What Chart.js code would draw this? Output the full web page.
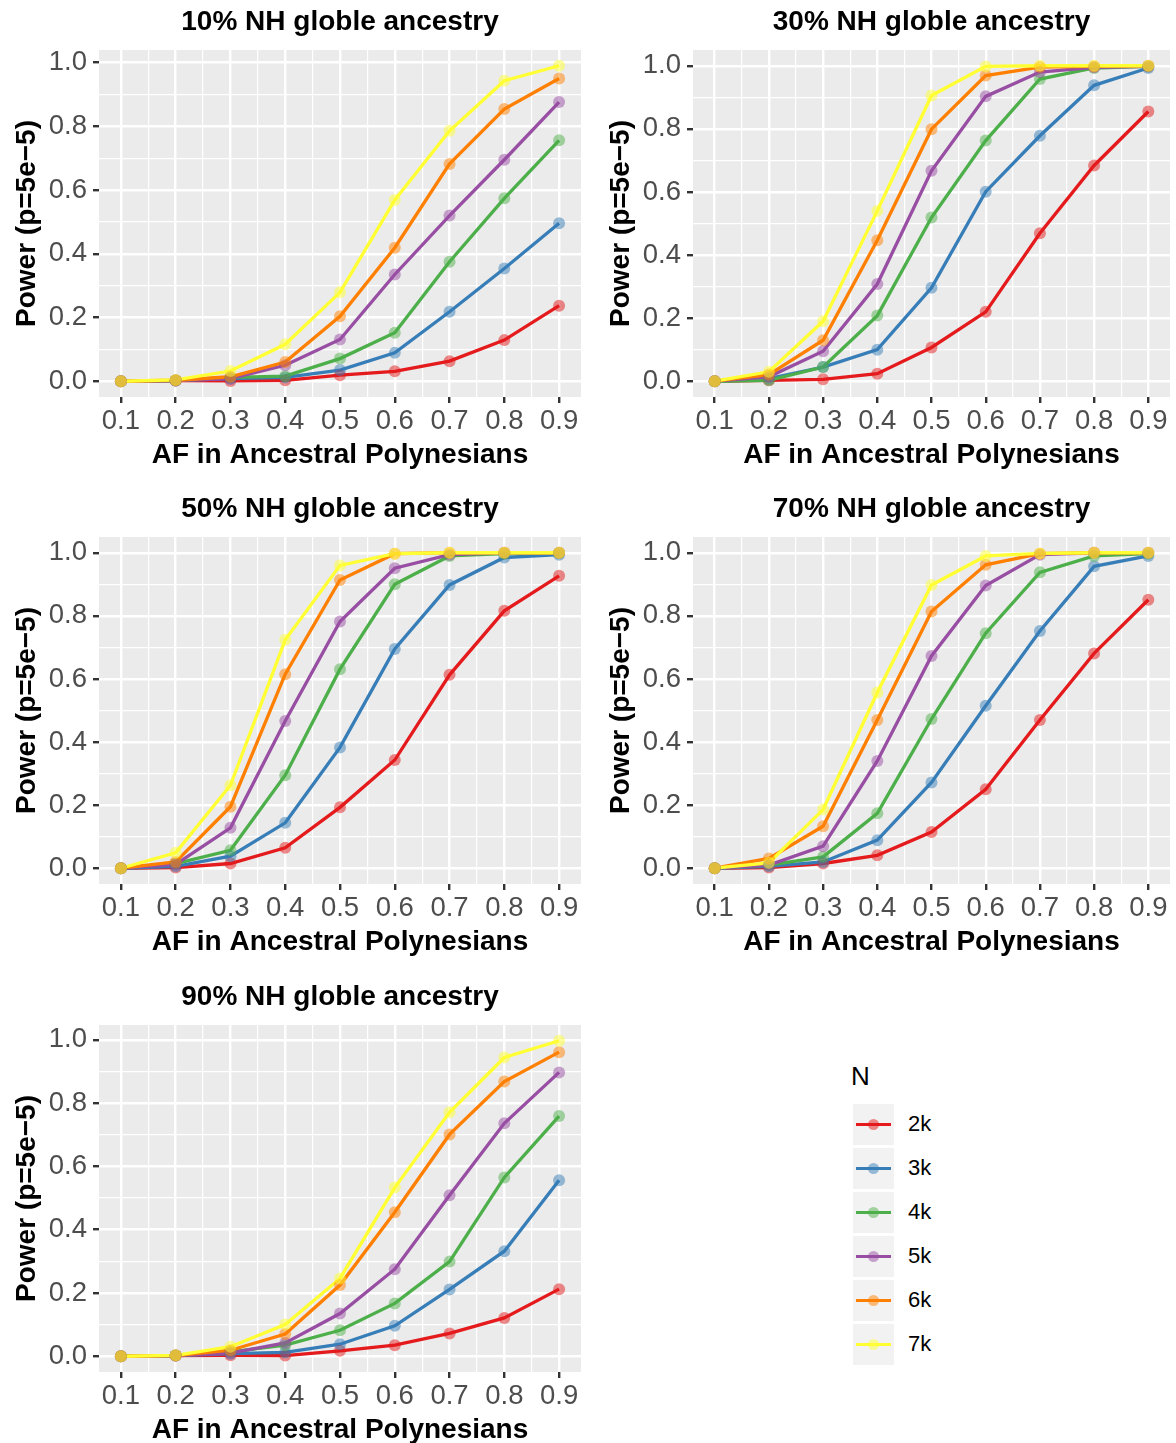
<!DOCTYPE html>
<html>
<head>
<meta charset="utf-8">
<script src="https://cdn.jsdelivr.net/npm/chart.js@4.4.0/dist/chart.umd.min.js"></script>
<style>
html, body { margin: 0; padding: 0; width: 1176px; height: 1443px; overflow: hidden; background: #fff; }
.panel { position: absolute; }
#legend { position: absolute; left: 0; top: 0; font-family: "Liberation Sans", Arial, sans-serif; }
</style>
</head>
<body>
<div class="panel" style="left:0px;top:0px"><canvas id="p10" width="588" height="487"></canvas></div>
<div class="panel" style="left:594px;top:0px"><canvas id="p30" width="582" height="487"></canvas></div>
<div class="panel" style="left:0px;top:487px"><canvas id="p50" width="588" height="487"></canvas></div>
<div class="panel" style="left:594px;top:487px"><canvas id="p70" width="582" height="487"></canvas></div>
<div class="panel" style="left:0px;top:975px"><canvas id="p90" width="588" height="487"></canvas></div>
<div id="legend"></div>
<script>
// AF in ancestral Polynesians (x values)
const afValues = [0.1, 0.2, 0.3, 0.4, 0.5, 0.6, 0.7, 0.8, 0.9];
const xMajor = [0.1, 0.2, 0.3, 0.4, 0.5, 0.6, 0.7, 0.8, 0.9];
const xMinor = [0.15, 0.25, 0.35, 0.45, 0.55, 0.65, 0.75, 0.85];
const yMajor = [0, 0.2, 0.4, 0.6, 0.8, 1.0];
const yMinor = [0.1, 0.3, 0.5, 0.7, 0.9];

const seriesNames = ['2k', '3k', '4k', '5k', '6k', '7k'];
const seriesColors = ['#E41A1C', '#377EB8', '#4DAF4A', '#984EA3', '#FF7F00', '#FFFF33'];

// power per N, rows follow seriesNames
const power10 = [
    [0, 0.002, 0.001, 0.003, 0.019, 0.031, 0.063, 0.129, 0.237],
    [0, 0.002, 0.008, 0.012, 0.035, 0.089, 0.218, 0.354, 0.496],
    [0, 0.002, 0.012, 0.016, 0.071, 0.152, 0.375, 0.574, 0.756],
    [0, 0.002, 0.008, 0.050, 0.131, 0.335, 0.520, 0.695, 0.876],
    [0, 0.003, 0.014, 0.060, 0.204, 0.419, 0.682, 0.854, 0.950],
    [0, 0.004, 0.032, 0.116, 0.279, 0.569, 0.786, 0.943, 0.990]
];
const power30 = [
    [0, 0.003, 0.006, 0.024, 0.107, 0.220, 0.469, 0.684, 0.855],
    [0, 0.008, 0.045, 0.100, 0.296, 0.601, 0.778, 0.938, 0.993],
    [0, 0.003, 0.045, 0.208, 0.519, 0.763, 0.958, 0.993, 0.998],
    [0, 0.014, 0.095, 0.308, 0.667, 0.903, 0.980, 0.995, 0.998],
    [0, 0.021, 0.130, 0.447, 0.799, 0.969, 0.996, 0.998, 1.000],
    [0, 0.030, 0.190, 0.540, 0.906, 0.998, 1.000, 1.000, 1.000]
];
const power50 = [
    [0, 0.002, 0.015, 0.065, 0.193, 0.343, 0.613, 0.816, 0.927],
    [0, 0.006, 0.038, 0.144, 0.383, 0.695, 0.898, 0.985, 0.994],
    [0, 0.015, 0.057, 0.295, 0.631, 0.900, 0.990, 0.997, 0.999],
    [0, 0.012, 0.128, 0.467, 0.782, 0.951, 0.994, 1.000, 1.000],
    [0, 0.020, 0.195, 0.615, 0.914, 0.997, 1.000, 1.000, 1.000],
    [0, 0.049, 0.263, 0.724, 0.960, 0.997, 1.000, 1.000, 1.000]
];
const power70 = [
    [0, 0.002, 0.015, 0.041, 0.115, 0.250, 0.470, 0.681, 0.851],
    [0, 0.006, 0.020, 0.089, 0.272, 0.515, 0.752, 0.957, 0.990],
    [0, 0.010, 0.036, 0.174, 0.473, 0.745, 0.938, 0.990, 0.997],
    [0, 0.010, 0.070, 0.340, 0.673, 0.896, 0.994, 1.000, 1.000],
    [0, 0.031, 0.133, 0.470, 0.814, 0.962, 0.997, 1.000, 1.000],
    [0, 0.017, 0.186, 0.557, 0.898, 0.990, 0.998, 1.000, 1.000]
];
const power90 = [
    [0, 0.002, 0.003, 0.002, 0.017, 0.035, 0.072, 0.121, 0.212],
    [0, 0.002, 0.008, 0.012, 0.038, 0.096, 0.211, 0.332, 0.556],
    [0, 0.002, 0.014, 0.035, 0.082, 0.167, 0.299, 0.565, 0.759],
    [0, 0.002, 0.010, 0.042, 0.135, 0.275, 0.509, 0.736, 0.897],
    [0, 0.002, 0.019, 0.070, 0.225, 0.455, 0.701, 0.868, 0.961],
    [0, 0.003, 0.030, 0.100, 0.246, 0.533, 0.771, 0.944, 0.997]
];

const FONT = '"Liberation Sans", Arial, sans-serif';
Chart.defaults.font.family = FONT;

function fade(hex, a) {
    const n = parseInt(hex.slice(1), 16);
    return `rgba(${(n >> 16) & 255}, ${(n >> 8) & 255}, ${n & 255}, ${a})`;
}

function tickList(major, minor) {
    const list = major.map(v => ({ value: v, minor: false }))
        .concat(minor.map(v => ({ value: v, minor: true })));
    list.sort((a, b) => a.value - b.value);
    return list;
}

// gray panel + title centred on the panel
const ggPanel = {
    id: 'ggPanel',
    beforeDraw(chart) {
        const { ctx, chartArea: a } = chart;
        ctx.save();
        ctx.fillStyle = '#EBEBEB';
        ctx.fillRect(a.left, a.top, a.right - a.left, a.bottom - a.top);
        ctx.restore();
    },
    afterDraw(chart, args, opts) {
        const { ctx, chartArea: a } = chart;
        ctx.save();
        ctx.font = 'bold 28px ' + FONT;
        ctx.fillStyle = '#000';
        ctx.textAlign = 'center';
        ctx.textBaseline = 'alphabetic';
        ctx.fillText(opts.text, (a.left + a.right) / 2, 30);
        ctx.restore();
    }
};

function gridOpts() {
    return {
        color: '#FFFFFF',
        lineWidth: c => (c.tick && c.tick.minor) ? 1.2 : 2.4,
        tickLength: 6,
        tickWidth: 2.4,
        tickColor: c => (c.tick && c.tick.minor) ? 'rgba(0,0,0,0)' : '#333333'
    };
}

function genChart(id, title, power) {
    const datasets = [];
    seriesNames.forEach((name, i) => {
        datasets.push({
            label: name,
            data: afValues.map((x, j) => ({ x: x, y: power[i][j] })),
            borderColor: seriesColors[i],
            backgroundColor: seriesColors[i],
            borderWidth: 3.3,
            pointRadius: 0,
            fill: false,
            tension: 0,
            order: 20 - i
        });
    });
    seriesNames.forEach((name, i) => {
        datasets.push({
            label: name + ' points',
            data: afValues.map((x, j) => ({ x: x, y: power[i][j] })),
            showLine: false,
            pointRadius: 6,
            pointBorderWidth: 0,
            pointBorderColor: 'rgba(0,0,0,0)',
            pointBackgroundColor: fade(seriesColors[i], 0.5),
            order: 10 - i
        });
    });

    let yTop = 0;
    power.forEach(row => row.forEach(v => { if (v > yTop) yTop = v; }));

    const canvas = document.getElementById(id);
    return new Chart(canvas, {
        type: 'line',
        data: { datasets: datasets },
        options: {
            responsive: false,
            animation: false,
            layout: { padding: { top: 50, left: 0, right: canvas.width - 581, bottom: 0 } },
            plugins: {
                legend: { display: false },
                tooltip: { enabled: false },
                title: { display: false },
                ggPanel: { text: title }
            },
            scales: {
                x: {
                    type: 'linear',
                    min: 0.1 - 0.04,
                    max: 0.9 + 0.04,
                    afterBuildTicks: s => { s.ticks = tickList(xMajor, xMinor); },
                    afterFit: s => { s.height = 90; },
                    grid: gridOpts(),
                    border: { display: false },
                    ticks: {
                        autoSkip: false,
                        maxRotation: 0,
                        minRotation: 0,
                        color: '#4D4D4D',
                        font: { size: 27.5 },
                        padding: 2,
                        callback: (v, i, ticks) => ticks[i].minor ? '' : v.toFixed(1)
                    },
                    title: {
                        display: true,
                        text: 'AF in Ancestral Polynesians',
                        color: '#000',
                        font: { size: 28, weight: 'bold' },
                        padding: { top: 0, bottom: 15 }
                    }
                },
                y: {
                    type: 'linear',
                    min: -0.05 * yTop,
                    max: 1.05 * yTop,
                    afterBuildTicks: s => { s.ticks = tickList(yMajor, yMinor); },
                    afterFit: s => { s.width = 99; },
                    grid: gridOpts(),
                    border: { display: false },
                    ticks: {
                        autoSkip: false,
                        color: '#4D4D4D',
                        font: { size: 27.5 },
                        padding: 6,
                        callback: (v, i, ticks) => ticks[i].minor ? '' : v.toFixed(1)
                    },
                    title: {
                        display: true,
                        text: 'Power (p=5e\u22125)',
                        color: '#000',
                        font: { size: 28, weight: 'bold' },
                        padding: { top: 10, bottom: 0 }
                    }
                }
            }
        },
        plugins: [ggPanel]
    });
}

genChart('p10', '10% NH globle ancestry', power10);
genChart('p30', '30% NH globle ancestry', power30);
genChart('p50', '50% NH globle ancestry', power50);
genChart('p70', '70% NH globle ancestry', power70);
genChart('p90', '90% NH globle ancestry', power90);

// legend (same names and colours as the datasets)
const legend = document.getElementById('legend');
let html = '<div style="position:absolute;left:851px;top:1061px;font-size:26px;line-height:30px;color:#000">N</div>';
seriesNames.forEach((name, i) => {
    const top = 1104 + 44 * i;
    html += `<div style="position:absolute;left:853px;top:${top}px;width:41px;height:41px;background:#F2F2F2">
        <div style="position:absolute;left:3px;top:19px;width:35px;height:3px;background:${seriesColors[i]}"></div>
        <div style="position:absolute;left:15px;top:15px;width:11px;height:11px;border-radius:50%;background:${fade(seriesColors[i], 0.5)}"></div>
    </div>
    <div style="position:absolute;left:908px;top:${top + 6}px;font-size:22px;line-height:28px;color:#000">${name}</div>`;
});
legend.innerHTML = html;
</script>
</body>
</html>
